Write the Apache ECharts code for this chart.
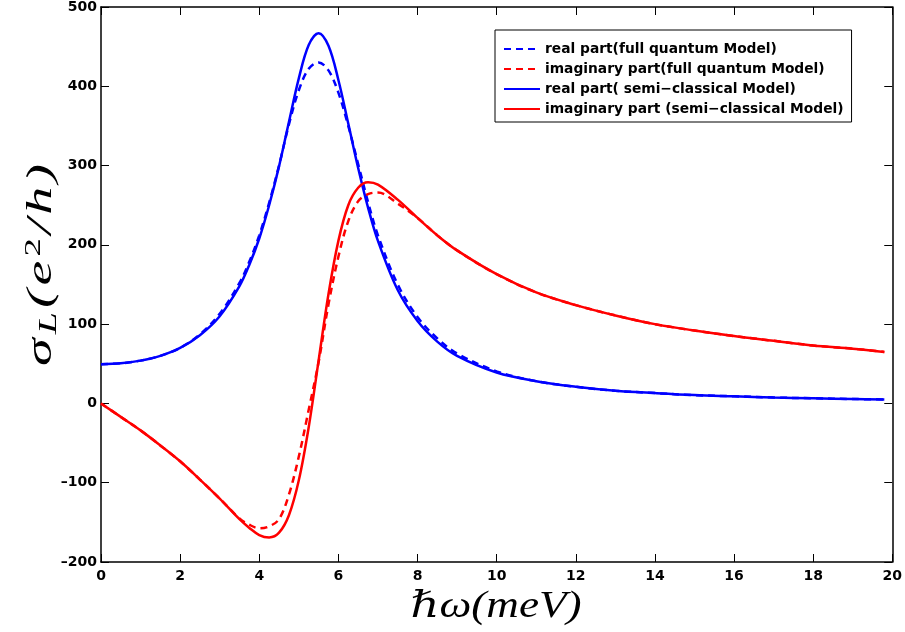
<!DOCTYPE html>
<html>
<head>
<meta charset="utf-8">
<script src="https://cdn.jsdelivr.net/npm/echarts@6/dist/echarts.min.js"></script>
<style>
html,body{margin:0;padding:0;background:#fff;}
#c{width:905px;height:632px;}
</style>
</head>
<body>
<div id="c"></div>
<script>
// photon energy (meV)
const energy = [0,0.5,1,1.5,2,2.5,3,3.5,3.75,4,4.25,4.5,4.75,5,5.25,5.5,5.75,6,6.25,6.5,6.75,7,7.5,8,8.5,9,10,11,12,13,14,15,16,17,18,19,19.8];
// full quantum model
const quantumReal = [49.5,50.6,54,60,70,87,113,152,179,212,253,300,352,395,422,430,420,392,350,302,254,212,150,109,82,63,40.5,28,21,16,13,10.5,9,7.5,6.5,5.6,5];
const quantumImag = [0,-17,-34,-53,-73,-96,-120,-145,-153,-157.5,-155,-146,-115,-67,-8,52,125,185,230,255,264,266,252,234,212,193,163,140,124,111,100,92,85,79,73,69,65];
// semi-classical model
const semiReal = [49.5,50.6,54,60,70,86,110,148,175,208,250,299,355,410,452,467,451,408,353,297,247,205,143,104,78,60,39,28,21,16,13,10.5,9,7.5,6.5,5.6,5];
const semiImag = [0,-17,-34,-53,-73,-96,-120,-146,-157,-166,-169,-163,-141,-97,-30,54,138,205,250,272,279,276,257,234,212,193,163,140,124,111,100,92,85,79,73,69,65];

const seriesNames = [
  'real part(full quantum Model)',
  'imaginary part(full quantum Model)',
  'real part( semi\u2212classical Model)',
  'imaginary part (semi\u2212classical Model)'
];
const xTicks = {min:0, max:20, interval:2};
const yTicks = {min:-200, max:500, interval:100};

function pairs(ys){ return energy.map((x,i)=>[x, ys[i]]); }
function mk(name, ys, color, dashed){
  return {
    name, type:'line', data:pairs(ys), showSymbol:false, symbol:'none', smooth:0.35,
    lineStyle:{color, width:2.5, type: dashed ? [7,5] : 'solid'},
    itemStyle:{color}, animation:false
  };
}
const tickFmt = v => String(v).replace('-', '\u2013');
const sansBold = '"DejaVu Sans", Arial, sans-serif';
const lblStyle = {color:'#000', fontFamily:sansBold, fontWeight:'bold', fontSize:14};
const axLine = {show:true, onZero:false, lineStyle:{color:'#000', width:1.5}};
const axTick = {show:true, inside:true, length:8, lineStyle:{color:'#000', width:1}};
const serif = '"Liberation Serif","DejaVu Serif",serif';
const gap = 2.5;

const chart = echarts.init(document.getElementById('c'), null, {renderer:'canvas'});
chart.setOption({
  backgroundColor:'#fff',
  animation:false,
  grid:{left:101, right:12, top:7, bottom:70, containLabel:false},
  xAxis:[
    {type:'value', min:xTicks.min, max:xTicks.max, interval:xTicks.interval, position:'bottom',
     axisLine:axLine, axisTick:axTick, splitLine:{show:false},
     axisLabel:Object.assign({margin:7, formatter:tickFmt}, lblStyle)},
    {type:'value', min:xTicks.min, max:xTicks.max, interval:xTicks.interval, position:'top',
     axisLine:axLine, axisTick:axTick, splitLine:{show:false}, axisLabel:{show:false}}
  ],
  yAxis:[
    {type:'value', min:yTicks.min, max:yTicks.max, interval:yTicks.interval, position:'left',
     axisLine:axLine, axisTick:axTick, splitLine:{show:false},
     axisLabel:Object.assign({margin:4, formatter:tickFmt}, lblStyle)},
    {type:'value', min:yTicks.min, max:yTicks.max, interval:yTicks.interval, position:'right',
     axisLine:axLine, axisTick:axTick, splitLine:{show:false}, axisLabel:{show:false}}
  ],
  legend:{
    orient:'vertical', left:495, top:30, itemWidth:36, itemHeight:14, itemGap:6,
    padding:[12,8,6,8], borderColor:'#000', borderWidth:1, backgroundColor:'#fff',
    itemStyle:{opacity:0},
    textStyle:{color:'#000', fontFamily:sansBold, fontWeight:'bold', fontSize:13.8},
    data:seriesNames
  },
  graphic:[
    {type:'text', x:42, y:265, rotation:Math.PI/2, scaleX:1.6, scaleY:1,
     style:{text:'{a|\u03c3}{b|L}{a|(}{a|e}{c|2}{a|/}{a|h}{d|)}', align:'center', verticalAlign:'middle',
       rich:{
         a:{fontFamily:serif, fontStyle:'italic', fontSize:35, lineHeight:40, verticalAlign:'middle', fill:'#000', padding:[0,gap,0,0]},
         d:{fontFamily:serif, fontStyle:'italic', fontSize:35, lineHeight:40, verticalAlign:'middle', fill:'#000'},
         b:{fontFamily:serif, fontStyle:'italic', fontSize:25, lineHeight:40, verticalAlign:'bottom', fill:'#000', padding:[0,gap,0,0]},
         c:{fontFamily:serif, fontSize:23, lineHeight:40, verticalAlign:'top', fill:'#000', padding:[0,gap,0,0]}
       }}},
    {type:'text', x:496, y:607, scaleX:1.22, scaleY:1,
     style:{text:'\u210F\u03c9(meV)', align:'center', verticalAlign:'middle',
       fontFamily:serif, fontStyle:'italic', fontSize:37, fill:'#000'}}
  ],
  series:[
    mk(seriesNames[0], quantumReal, '#0000ff', true),
    mk(seriesNames[1], quantumImag, '#ff0000', true),
    mk(seriesNames[2], semiReal, '#0000ff', false),
    mk(seriesNames[3], semiImag, '#ff0000', false)
  ]
});
</script>
</body>
</html>
